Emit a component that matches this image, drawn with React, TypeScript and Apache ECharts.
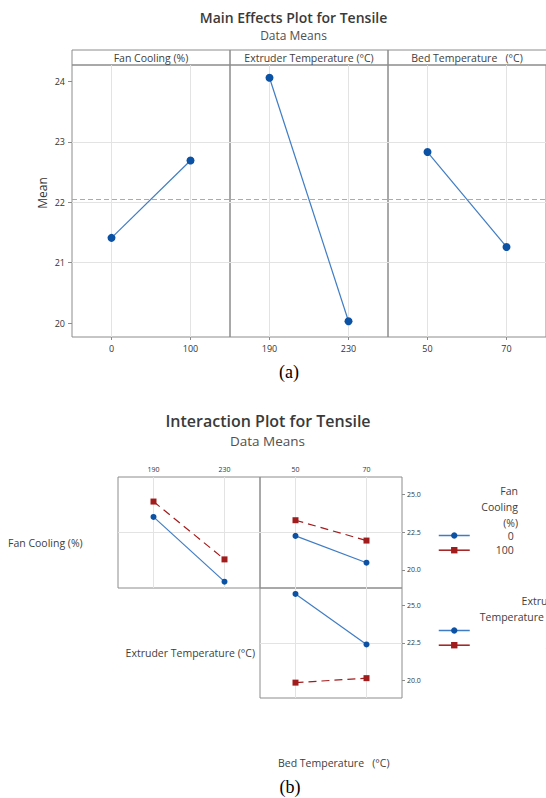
import React, { useEffect, useRef } from 'react';
import * as echarts from 'echarts';

// ---------- Main effects data ----------
const fanLevels = ['0', '100'];
const fanMeans = [21.41, 22.69];
const extruderLevels = ['190', '230'];
const extruderMeans = [24.06, 20.03];
const bedLevels = ['50', '70'];
const bedMeans = [22.83, 21.26];
const grandMean = 22.045;
const mainYTicks = [20, 21, 22, 23, 24];
const mainHeaders = ['Fan Cooling (%)', 'Extruder Temperature (°C)', 'Bed Temperature   (°C)'];

// ---------- Interaction data ----------
const fan0ByExtruder = [23.52, 19.22];
const fan100ByExtruder = [24.54, 20.7];
const fan0ByBed = [22.26, 20.48];
const fan100ByBed = [23.3, 21.95];
const ext190ByBed = [25.77, 22.39];
const ext230ByBed = [19.83, 20.13];
const interYTicks = [20, 22.5, 25];
const fanLegendNames = ['0', '100'];
const extruderLegendNames = ['190', '230'];

const FONT = '"Open Sans", "Noto Sans", sans-serif';
const BLUE_LINE = '#3f7cc4';
const BLUE_MARK = '#0b52a5';
const RED = '#a11c1c';
const BORDER = '#8c8c8c';
const GRIDLINE = '#e3e3e3';
const TEXT = '#404040';

function txt(text: string, x: number, y: number, size: number, align: string, opts: any = {}) {
  return {
    type: 'text',
    x,
    y,
    silent: true,
    rotation: opts.rotation || 0,
    style: {
      text,
      fill: opts.color || TEXT,
      font: `${opts.weight || 'normal'} ${size}px ${opts.family || FONT}`,
      align,
      textAlign: align,
      verticalAlign: 'middle',
      textVerticalAlign: 'middle',
    },
  };
}

export default function App() {
  const ref = useRef<HTMLDivElement>(null);
  useEffect(() => {
    if (!ref.current) return;
    const chart = echarts.init(ref.current, undefined, { renderer: 'svg' });

    const mainGrids = [
      { left: 72, top: 65, width: 158, height: 272 },
      { left: 230, top: 65, width: 158, height: 272 },
      { left: 388, top: 65, width: 162, height: 272 },
    ];
    const interGrids = [
      { left: 118, top: 477, width: 142, height: 111 },
      { left: 260, top: 477, width: 142, height: 111 },
      { left: 260, top: 588, width: 142, height: 110 },
    ];
    const grids = [...mainGrids, ...interGrids].map((g) => ({
      ...g,
      show: true,
      borderColor: BORDER,
      borderWidth: 1,
      backgroundColor: 'transparent',
      containLabel: false,
    }));

    const mainCats = [fanLevels, extruderLevels, bedLevels];
    const interCats = [extruderLevels, bedLevels, bedLevels];

    const xAxes: any[] = [];
    mainCats.forEach((cats, i) => {
      xAxes.push({
        gridIndex: i,
        type: 'category',
        data: cats,
        boundaryGap: true,
        axisLine: { show: false },
        axisTick: { show: true, alignWithLabel: true, length: 3, lineStyle: { color: BORDER } },
        axisLabel: { fontSize: 9, color: '#333', margin: 7, fontFamily: FONT },
        splitLine: { show: false },
      });
    });
    interCats.forEach((cats, i) => {
      xAxes.push({
        gridIndex: 3 + i,
        type: 'category',
        position: 'top',
        data: cats,
        boundaryGap: true,
        axisLine: { show: false },
        axisTick: { show: false },
        axisLabel: { show: i < 2, fontSize: 7, color: '#333', margin: 4, fontFamily: FONT },
        splitLine: { show: false },
      });
    });

    const yAxes: any[] = [];
    for (let i = 0; i < 3; i++) {
      yAxes.push({
        gridIndex: i,
        type: 'value',
        min: 19.77,
        max: 24.27,
        minInterval: 1,
        maxInterval: 1,
        axisLine: { show: false },
        axisTick: { show: i === 0, customValues: mainYTicks, length: 4, lineStyle: { color: BORDER } },
        axisLabel: { show: i === 0, customValues: mainYTicks, fontSize: 9, color: '#333', margin: 7, fontFamily: FONT },
        splitLine: { show: true, showMinLine: false, showMaxLine: false, lineStyle: { color: GRIDLINE, width: 1 } },
      });
    }
    for (let i = 0; i < 3; i++) {
      yAxes.push({
        gridIndex: 3 + i,
        type: 'value',
        position: 'right',
        min: 18.8,
        max: 26.17,
        minInterval: 2.5,
        maxInterval: 2.5,
        axisLine: { show: false },
        axisTick: { show: i > 0, customValues: interYTicks, length: 3, lineStyle: { color: BORDER } },
        axisLabel: {
          show: i > 0,
          customValues: interYTicks,
          fontSize: 7,
          color: '#333',
          margin: 5,
          fontFamily: FONT,
          formatter: (v: number) => v.toFixed(1),
        },
        splitLine: { show: true, showMinLine: false, showMaxLine: false, lineStyle: { color: GRIDLINE, width: 1 } },
      });
    }

    const gridSeries = (idx: number, withMean: boolean) => ({
      type: 'line',
      name: 'grid' + idx,
      xAxisIndex: idx,
      yAxisIndex: idx,
      data: [],
      z: 1,
      silent: true,
      markLine: {
        silent: true,
        z: 1,
        symbol: 'none',
        label: { show: false },
        animation: false,
        data: [
          { xAxis: 0, lineStyle: { color: GRIDLINE, type: 'solid', width: 1 } },
          { xAxis: 1, lineStyle: { color: GRIDLINE, type: 'solid', width: 1 } },
          ...(withMean ? [{ yAxis: grandMean, lineStyle: { color: '#ababab', type: [5, 3], width: 1.2 } }] : []),
        ],
      },
    });

    const mainSeries = (idx: number, data: number[]) => ({
      type: 'line',
      name: 'main' + idx,
      xAxisIndex: idx,
      yAxisIndex: idx,
      data,
      z: 3,
      symbol: 'circle',
      symbolSize: 8,
      lineStyle: { color: BLUE_LINE, width: 1.2 },
      itemStyle: { color: BLUE_MARK },
    });

    const blueSeries = (idx: number, name: string, data: number[]) => ({
      type: 'line',
      name,
      xAxisIndex: idx,
      yAxisIndex: idx,
      data,
      z: 3,
      symbol: 'circle',
      symbolSize: 6,
      lineStyle: { color: BLUE_LINE, width: 1.2 },
      itemStyle: { color: BLUE_MARK },
    });
    const redSeries = (idx: number, name: string, data: number[]) => ({
      type: 'line',
      name,
      xAxisIndex: idx,
      yAxisIndex: idx,
      data,
      z: 3,
      symbol: 'rect',
      symbolSize: 6,
      lineStyle: { color: RED, width: 1.2, type: [8, 5] },
      itemStyle: { color: RED },
    });

    const series: any[] = [
      gridSeries(0, true),
      gridSeries(1, true),
      gridSeries(2, true),
      gridSeries(3, false),
      gridSeries(4, false),
      gridSeries(5, false),
      mainSeries(0, fanMeans),
      mainSeries(1, extruderMeans),
      mainSeries(2, bedMeans),
      blueSeries(3, fanLegendNames[0], fan0ByExtruder),
      redSeries(3, fanLegendNames[1], fan100ByExtruder),
      blueSeries(4, fanLegendNames[0], fan0ByBed),
      redSeries(4, fanLegendNames[1], fan100ByBed),
      blueSeries(5, extruderLegendNames[0], ext190ByBed),
      redSeries(5, extruderLegendNames[1], ext230ByBed),
    ];

    const legendCommon = {
      orient: 'vertical',
      left: 438,
      itemWidth: 31,
      itemHeight: 8,
      itemGap: 3.7,
      selectedMode: false,
      padding: 0,
      formatter: '{r|{name}}',
      lineStyle: { type: 'solid', width: 1.5 },
    };

    const graphics: any[] = [
      txt('Main Effects Plot for Tensile', 293.5, 17, 14, 'center', { weight: 600, color: '#3a3a3a' }),
      txt('Data Means', 293.5, 35, 12, 'center', { color: '#505050' }),
      txt('Mean', 42, 193, 12, 'center', { rotation: Math.PI / 2, color: '#333' }),
      txt('(a)', 289, 372, 18, 'center', { family: '"Liberation Serif", serif', color: '#000' }),
      txt('Interaction Plot for Tensile', 268, 421, 16, 'center', { weight: 600, color: '#3a3a3a' }),
      txt('Data Means', 267.5, 441, 13.5, 'center', { color: '#505050' }),
      txt('Fan Cooling (%)', 8, 543, 10.5, 'left'),
      txt('Extruder Temperature (°C)', 255, 653, 10.5, 'right'),
      txt('Bed Temperature   (°C)', 278, 763, 10.5, 'left'),
      txt('(b)', 290, 787, 18, 'center', { family: '"Liberation Serif", serif', color: '#000' }),
      txt('Fan', 518, 491, 10.5, 'right'),
      txt('Cooling', 518, 507, 10.5, 'right'),
      txt('(%)', 518, 523, 10.5, 'right'),
      txt('Extruder', 564, 601, 10.5, 'right'),
      txt('Temperature (°C)', 564, 617, 10.5, 'right'),
    ];
    mainGrids.forEach((g, i) => {
      graphics.push({
        type: 'rect',
        silent: true,
        shape: { x: g.left, y: 50, width: g.width, height: 15 },
        style: { fill: 'none', stroke: BORDER, lineWidth: 1 },
      });
      graphics.push(txt(mainHeaders[i], g.left + 79, 57.5, 10.5, 'center'));
    });

    chart.setOption({
      animation: false,
      backgroundColor: '#ffffff',
      grid: grids,
      xAxis: xAxes,
      yAxis: yAxes,
      series,
      legend: [
        {
          ...legendCommon,
          top: 530,
          data: fanLegendNames,
          textStyle: { rich: { r: { width: 39, align: 'right', fontSize: 10.5, color: TEXT, fontFamily: FONT, lineHeight: 12 } } },
        },
        {
          ...legendCommon,
          top: 625,
          data: extruderLegendNames,
          textStyle: { rich: { r: { width: 89, align: 'right', fontSize: 10.5, color: TEXT, fontFamily: FONT, lineHeight: 12 } } },
        },
      ],
      graphic: graphics,
    });
    return () => chart.dispose();
  }, []);
  return <div ref={ref} style={{ position: 'absolute', left: 0, top: 0, width: 546, height: 798 }} />;
}
